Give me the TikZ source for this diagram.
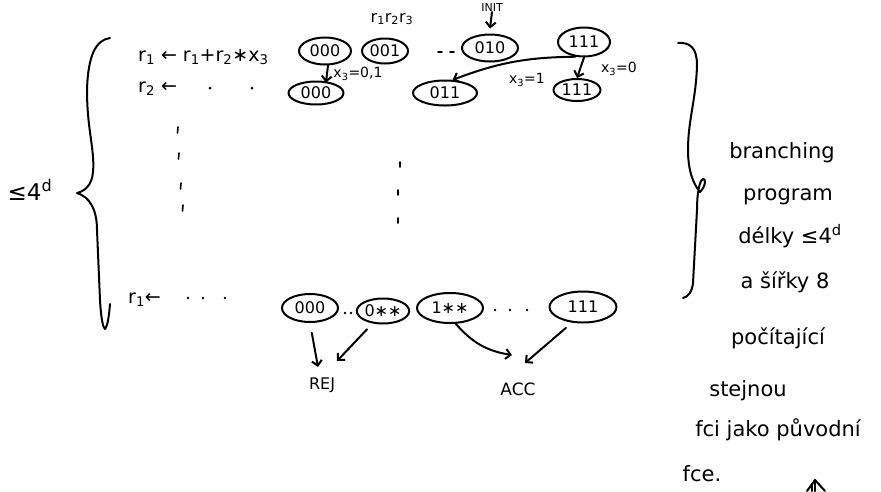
\documentclass[tikz,border=0pt]{standalone}
\usepackage{fontspec}
\setmainfont{DejaVu Sans}
\usetikzlibrary{shapes.geometric,arrows.meta}
\newcommand\dn[1]{\textsubscript{#1}}
\newcommand\up[1]{\textsuperscript{#1}}
\begin{document}
\begin{tikzpicture}[x=1pt,y=-1pt,
  hand/.style={line width=2pt,line cap=round,line join=round},
  st/.style 2 args={ellipse,draw,hand,line width=2pt,inner sep=0pt,
    minimum width=#1,minimum height=#2,font=\fontsize{16}{16}\selectfont},
  lbl/.style={inner sep=0pt,font=\fontsize{19}{19}\selectfont},
  small/.style={inner sep=0pt,font=\fontsize{14}{14}\selectfont},
  note/.style={inner sep=0pt,font=\fontsize{21}{21}\selectfont},
  arr/.style={hand,-{Straight Barb[length=5pt,width=10pt]}},
  tick/.style={hand,line width=1.6pt}]
\useasboundingbox (0,0) rectangle (881,491);
\fill[white] (0,0) rectangle (881,491);

% left brace and its bound
\draw[hand] (110,38) .. controls (96,40) and (88,55) .. (87,90)
  .. controls (87,130) and (95,150) .. (93,172)
  .. controls (92,185) and (85,191) .. (77,193)
  .. controls (90,197) and (97,210) .. (97,230) -- (100,300)
  .. controls (101,318) and (103,328) .. (105,329)
  .. controls (108,325) and (109,315) .. (110,304);
\node[note,font=\fontsize{23}{23}\selectfont] (bound) at (30,190) {≤4\up{d}};

% right brace
\draw[hand] (678,43) .. controls (690,42) and (697,48) .. (697,65)
  .. controls (696,100) and (688,120) .. (688,150)
  .. controls (688,172) and (694,185) .. (700,192)
  .. controls (706,186) and (706,178) .. (703,179)
  .. controls (699,181) and (697,195) .. (697,210) -- (693,283)
  .. controls (692,292) and (688,297) .. (683,298);

% register updates
\node[lbl,anchor=base west] (row1) at (138,61) {r\dn1 ← r\dn1+r\dn2∗x\dn3};
\node[lbl,anchor=base west] (row2) at (138,92) {r\dn2 ←};
\fill (210,88) circle (1.5) (252,88) circle (1.5);
\node[lbl,anchor=base west] (rowk) at (128,303) {r\dn1←};
\fill (188,298) circle (1.4) (203,298) circle (1.4) (225,298) circle (1.4);

% vertical ellipsis
\foreach \x/\y in {178/127,179/153,181/183,183/205}
  \draw[tick] (\x,\y) -- ++(-0.5,6);
\foreach \x/\y in {400/162,398/190,398/218}
  \draw[tick] (\x,\y) -- ++(0,5);

% first layer of states
\node[small,font=\fontsize{16}{16}\selectfont] (vars) at (392,19) {r\dn1r\dn2r\dn3};
\node[st={52pt}{27pt}] (a000) at (325,51) {000};
\node[st={46pt}{25pt}] (a001) at (385,51) {001};
\draw[tick] (438,52) -- ++(4,0) (450,52) -- ++(4,0);
\node[st={56pt}{27pt}] (a010) at (490,48) {010};
\node[st={52pt}{29pt}] (a111) at (584,42) {111};
\node[small,font=\fontsize{11}{11}\selectfont,anchor=south] (init) at (492,12) {INIT};
\draw[arr] (init.south) -- ([yshift=5pt]a010.north);

% second layer of states
\node[st={55pt}{23pt}] (b000) at (316,93) {000};
\node[st={64pt}{25pt}] (b011) at (445,93) {011};
\node[st={47pt}{22pt}] (b111) at (577,90) {111};

\draw[arr] ([xshift=3pt]a000.south) -- ([xshift=10pt,yshift=-2pt]b000.north);
\node[small] (e1) at (358,74) {x\dn3=0,1};
\draw[arr] (a111.south) -- (b111.north);
\node[small] (e2) at (619,69) {x\dn3=0};
\draw[arr] (a111.240) to[bend right=10] (b011.60);
\node[small] (e3) at (527,80) {x\dn3=1};

% last layer of states
\node[st={56pt}{28pt}] (c000) at (310,308) {000};
\fill (345,313) circle (1.4) (351,313) circle (1.4);
\node[st={48pt}{25pt}] (c0xx) at (383,311) {0∗∗};
\node[st={66pt}{30pt}] (c1xx) at (450,308) {1∗∗};
\fill (495,310) circle (1.4) (510,310) circle (1.4) (527,310) circle (1.4);
\node[st={67pt}{31pt}] (c111) at (583,307) {111};

\node[lbl,font=\fontsize{16}{16}\selectfont] (rej) at (322,385) {REJ};
\node[lbl,font=\fontsize{17}{17}\selectfont] (acc) at (518,389) {ACC};
\coordinate (rejA) at (318,367);
\coordinate (rejB) at (337,361);
\coordinate (accA) at (512,355);
\coordinate (accB) at (525,363);

\draw[arr,shorten <=10pt] (c000.south) -- (rejA);
\draw[arr,shorten <=8pt] (c0xx.230) -- (rejB);
\draw[arr] (c1xx.290) to[bend right=20] (accA);
\draw[arr,shorten <=8pt] (c111.235) -- (accB);

% note on the right
\node[note] (t1) at (782,153) {branching};
\node[note] (t2) at (788,197) {program};
\node[note] (t3) at (790,236) {délky ≤4\up{d}};
\node[note] (t4) at (785,282) {a šířky 8};
\node[note] (t5) at (778,338) {počítající};
\node[note] (t6) at (748,391) {stejnou};
\node[note] (t7) at (778,430) {fci jako původní};
\node[note] (t8) at (702,474) {fce.};

% start of the next sketch at the lower edge
\draw[hand] (807,491) -- (815,480) -- (825,491);
\draw[hand] (815,480) -- (815,491) (812,484) -- (812,491);
\end{tikzpicture}
\end{document}
